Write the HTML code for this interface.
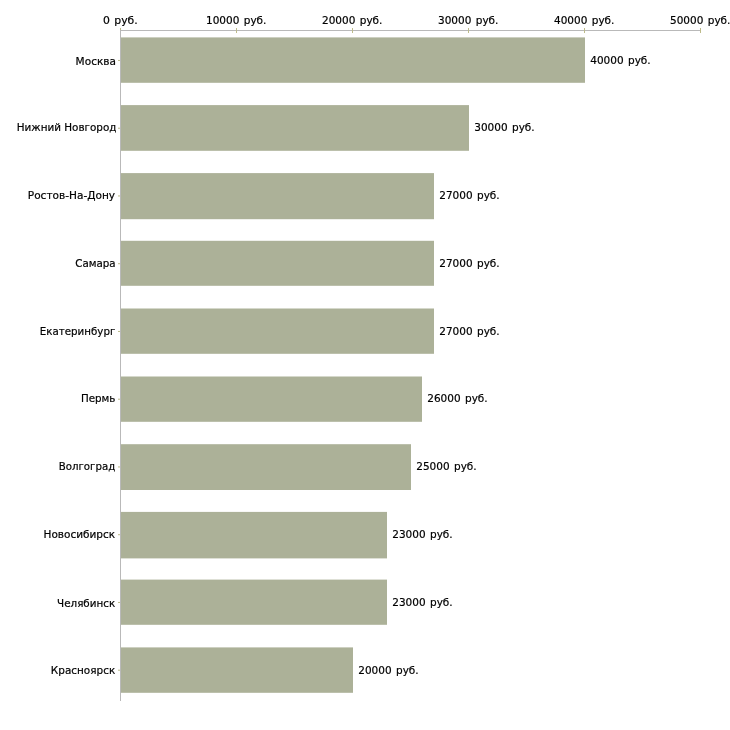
<!DOCTYPE html>
<html lang="ru"><head><meta charset="utf-8"><title>chart</title>
<style>html,body{margin:0;padding:0;background:#fff}svg{display:block}text{font-family:"DejaVu Sans","Liberation Sans",sans-serif;font-size:11px;fill:#000;stroke:#000;stroke-width:0.2px}text.w{word-spacing:1.05px}</style></head><body>
<svg width="730" height="730" viewBox="0 0 730 730">
<rect width="730" height="730" fill="#fff"/>
<rect x="121" y="37.40" width="464" height="45.40" fill="#acb198"/>
<rect x="121" y="105.10" width="348" height="45.70" fill="#acb198"/>
<rect x="121" y="173.10" width="313" height="46.10" fill="#acb198"/>
<rect x="121" y="240.80" width="313" height="45.00" fill="#acb198"/>
<rect x="121" y="308.50" width="313" height="45.30" fill="#acb198"/>
<rect x="121" y="376.50" width="301" height="45.30" fill="#acb198"/>
<rect x="121" y="444.20" width="290" height="45.80" fill="#acb198"/>
<rect x="121" y="511.90" width="266" height="46.50" fill="#acb198"/>
<rect x="121" y="579.60" width="266" height="45.20" fill="#acb198"/>
<rect x="121" y="647.40" width="232" height="45.40" fill="#acb198"/>
<rect x="120" y="30" width="581" height="1" fill="#b9b9b9"/>
<rect x="120" y="30" width="1" height="671" fill="#b9b9b9"/>
<rect x="120" y="28" width="1" height="2" fill="#bdbb8a"/>
<text id="top0" class="w" transform="translate(120.30,24) scale(0.9860,1)" text-anchor="middle">0 руб.</text>
<rect x="236" y="28" width="1" height="5" fill="#bdbb8a"/>
<text id="top1" class="w" transform="translate(236.20,24) scale(0.9550,1)" text-anchor="middle">10000 руб.</text>
<rect x="352" y="28" width="1" height="5" fill="#bdbb8a"/>
<text id="top2" class="w" transform="translate(352.20,24) scale(0.9550,1)" text-anchor="middle">20000 руб.</text>
<rect x="468" y="28" width="1" height="5" fill="#bdbb8a"/>
<text id="top3" class="w" transform="translate(468.20,24) scale(0.9550,1)" text-anchor="middle">30000 руб.</text>
<rect x="584" y="28" width="1" height="5" fill="#bdbb8a"/>
<text id="top4" class="w" transform="translate(584.20,24) scale(0.9550,1)" text-anchor="middle">40000 руб.</text>
<rect x="700" y="28" width="1" height="5" fill="#bdbb8a"/>
<text id="top5" class="w" transform="translate(700.20,24) scale(0.9550,1)" text-anchor="middle">50000 руб.</text>
<rect x="118" y="59.95" width="2" height="1" fill="#bdbb8a"/>
<text id="cat0" transform="translate(115.98,65) scale(0.9582,1)" text-anchor="end">Москва</text>
<text id="val0" class="w" transform="translate(590.23,64) scale(0.9550,1)">40000 руб.</text>
<rect x="118" y="127.70" width="2" height="1" fill="#bdbb8a"/>
<text id="cat1" transform="translate(116.50,131) scale(0.9454,1)" text-anchor="end">Нижний Новгород</text>
<text id="val1" class="w" transform="translate(474.23,131) scale(0.9550,1)">30000 руб.</text>
<rect x="118" y="195.45" width="2" height="1" fill="#bdbb8a"/>
<text id="cat2" transform="translate(115.05,199) scale(0.9601,1)" text-anchor="end">Ростов-На-Дону</text>
<text id="val2" class="w" transform="translate(439.23,199) scale(0.9550,1)">27000 руб.</text>
<rect x="118" y="263.20" width="2" height="1" fill="#bdbb8a"/>
<text id="cat3" transform="translate(115.68,267) scale(0.9369,1)" text-anchor="end">Самара</text>
<text id="val3" class="w" transform="translate(439.23,267) scale(0.9550,1)">27000 руб.</text>
<rect x="118" y="330.95" width="2" height="1" fill="#bdbb8a"/>
<text id="cat4" transform="translate(115.30,335) scale(0.9342,1)" text-anchor="end">Екатеринбург</text>
<text id="val4" class="w" transform="translate(439.23,335) scale(0.9550,1)">27000 руб.</text>
<rect x="118" y="398.70" width="2" height="1" fill="#bdbb8a"/>
<text id="cat5" transform="translate(115.42,402) scale(0.9382,1)" text-anchor="end">Пермь</text>
<text id="val5" class="w" transform="translate(427.23,402) scale(0.9550,1)">26000 руб.</text>
<rect x="118" y="466.45" width="2" height="1" fill="#bdbb8a"/>
<text id="cat6" transform="translate(115.30,470) scale(0.9302,1)" text-anchor="end">Волгоград</text>
<text id="val6" class="w" transform="translate(416.23,470) scale(0.9550,1)">25000 руб.</text>
<rect x="118" y="534.20" width="2" height="1" fill="#bdbb8a"/>
<text id="cat7" transform="translate(115.18,538) scale(0.9565,1)" text-anchor="end">Новосибирск</text>
<text id="val7" class="w" transform="translate(392.23,538) scale(0.9550,1)">23000 руб.</text>
<rect x="118" y="601.95" width="2" height="1" fill="#bdbb8a"/>
<text id="cat8" transform="translate(115.18,607) scale(0.9421,1)" text-anchor="end">Челябинск</text>
<text id="val8" class="w" transform="translate(392.23,606) scale(0.9550,1)">23000 руб.</text>
<rect x="118" y="669.70" width="2" height="1" fill="#bdbb8a"/>
<text id="cat9" transform="translate(115.18,674) scale(0.9489,1)" text-anchor="end">Красноярск</text>
<text id="val9" class="w" transform="translate(358.23,674) scale(0.9550,1)">20000 руб.</text>
</svg></body></html>
